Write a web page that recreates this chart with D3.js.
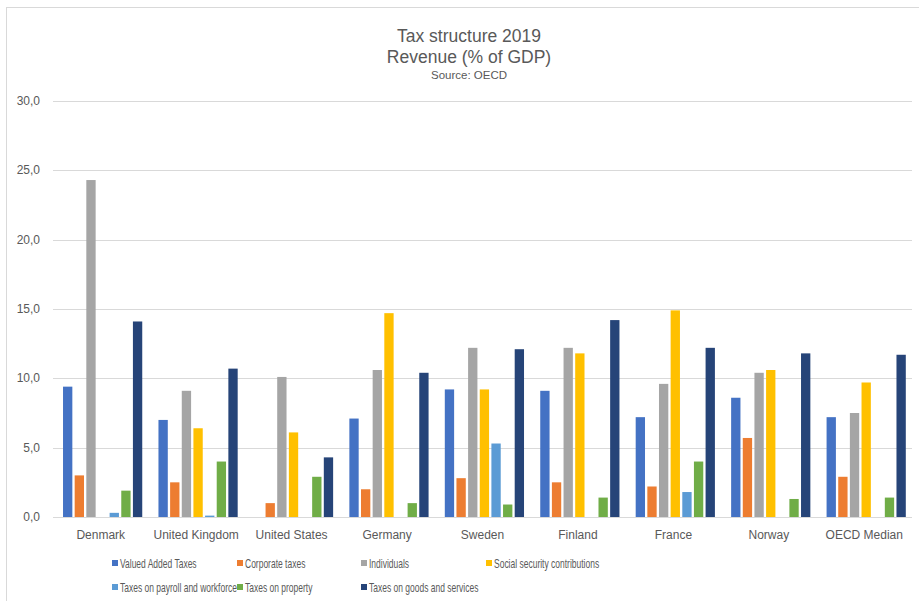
<!DOCTYPE html>
<html>
<head>
<meta charset="utf-8">
<script src="https://cdn.jsdelivr.net/npm/d3@7"></script>
<style>
  body { margin: 0; background: #fff; }
  svg text { font-family: "Liberation Sans", Arial, sans-serif; fill: #595959; }
</style>
</head>
<body>
<div id="chart"></div>
<script>
const countries = ['Denmark', 'United Kingdom', 'United States', 'Germany', 'Sweden', 'Finland', 'France', 'Norway', 'OECD Median']
const seriesNames = ['Valued Added Taxes', 'Corporate taxes', 'Individuals', 'Social security contributions',
   'Taxes on payroll and workforce', 'Taxes on property', 'Taxes on goods and services']
const colors = ['#4472c4', '#ed7d31', '#a5a5a5', '#ffc000', '#5b9bd5', '#70ad47', '#264478']

// one array per series, in country order
const valueAdded   = [9.4, 7.0, 0.0, 7.1, 9.2, 9.1, 7.2, 8.6, 7.2]
const corporate    = [3.0, 2.5, 1.0, 2.0, 2.8, 2.5, 2.2, 5.7, 2.9]
const individuals  = [24.3, 9.1, 10.1, 10.6, 12.2, 12.2, 9.6, 10.4, 7.5]
const socialSec    = [0.0, 6.4, 6.1, 14.7, 9.2, 11.8, 14.9, 10.6, 9.7]
const payroll      = [0.3, 0.1, 0.0, 0.0, 5.3, 0.0, 1.8, 0.0, 0.0]
const property     = [1.9, 4.0, 2.9, 1.0, 0.9, 1.4, 4.0, 1.3, 1.4]
const goodsServ    = [14.1, 10.7, 4.3, 10.4, 12.1, 14.2, 12.2, 11.8, 11.7]
const yTicks = [0, 5, 10, 15, 20, 25, 30]

const series = [valueAdded, corporate, individuals, socialSec, payroll, property, goodsServ]

const width = 919, height = 601
const svg = d3.select('#chart').append('svg')
   .attr('width', width)
   .attr('height', height)

// chart frame
svg.append('rect')
   .attr('x', 6.5).attr('y', 7.5)
   .attr('width', width + 10).attr('height', height + 10)
   .attr('fill', 'none').attr('stroke', '#d9d9d9')

const plotLeft = 53, plotRight = 912, plotTop = 101, plotBottom = 517

const x0 = d3.scaleBand().domain(countries).range([plotLeft, plotRight])
const bw = x0.bandwidth()
const x1 = d3.scaleBand().domain(d3.range(series.length))
   .range([bw * 0.105, bw * 0.935]).paddingInner(0.2)
const y = d3.scaleLinear().domain([0, 30]).range([plotBottom, plotTop])

const locale = d3.formatLocale({ decimal: ',', thousands: '.', grouping: [3], currency: ['', ''] })
const fmt = locale.format('.1f')

// gridlines
svg.append('g')
   .selectAll('line')
   .data(yTicks)
   .join('line')
   .attr('x1', plotLeft).attr('x2', plotRight)
   .attr('y1', d => Math.round(y(d)) + 0.5).attr('y2', d => Math.round(y(d)) + 0.5)
   .attr('stroke', '#d9d9d9')

// y labels
svg.append('g')
   .selectAll('text')
   .data(yTicks)
   .join('text')
   .attr('x', 40)
   .attr('y', d => y(d) + 4)
   .attr('text-anchor', 'end')
   .style('font-size', '12px')
   .text(d => fmt(d))

// bars
const groups = svg.append('g')
   .selectAll('g')
   .data(countries)
   .join('g')
   .attr('transform', d => `translate(${x0(d)},0)`)

groups.selectAll('rect')
   .data((c, ci) => series.map((s, si) => ({ si, v: s[ci] })))
   .join('rect')
   .filter(d => d.v > 0)
   .attr('x', d => x1(d.si))
   .attr('width', x1.bandwidth())
   .attr('y', d => y(d.v))
   .attr('height', d => y(0) - y(d.v))
   .attr('fill', d => colors[d.si])

// x axis line
svg.append('line')
   .attr('x1', plotLeft).attr('x2', plotRight)
   .attr('y1', plotBottom + 0.5).attr('y2', plotBottom + 0.5)
   .attr('stroke', '#d9d9d9')

// category labels
svg.append('g')
   .selectAll('text')
   .data(countries)
   .join('text')
   .attr('x', d => x0(d) + bw / 2)
   .attr('y', 539)
   .attr('text-anchor', 'middle')
   .style('font-size', '12px')
   .text(d => d)

// titles
svg.append('text').attr('x', 469).attr('y', 42).attr('text-anchor', 'middle')
   .style('font-size', '17.5px').text('Tax structure 2019')
svg.append('text').attr('x', 469).attr('y', 63).attr('text-anchor', 'middle')
   .style('font-size', '17.5px').text('Revenue (% of GDP)')
svg.append('text').attr('x', 469).attr('y', 79).attr('text-anchor', 'middle')
   .style('font-size', '11.5px').text('Source: OECD')

// legend
const legendX = [112, 237, 361, 486]
const legend = svg.append('g')
   .selectAll('g')
   .data(seriesNames)
   .join('g')
   .attr('transform', (d, i) => `translate(${legendX[i % 4]},${i < 4 ? 563 : 587})`)

legend.append('rect')
   .attr('x', 0).attr('y', -3)
   .attr('width', 6).attr('height', 6)
   .attr('fill', (d, i) => colors[i])

// condensed to mimic the narrow original face
legend.append('text')
   .attr('transform', 'translate(8,4.5) scale(0.68,1)')
   .style('font-size', '12.5px')
   .text(d => d)
</script>
</body>
</html>
